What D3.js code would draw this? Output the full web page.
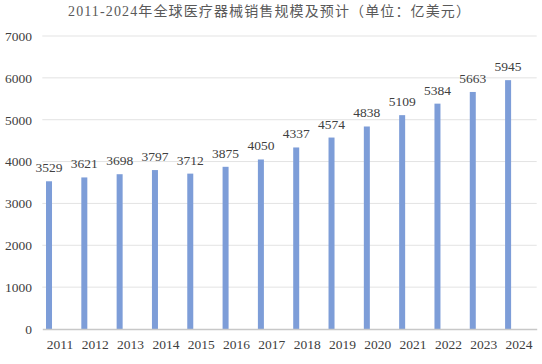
<!DOCTYPE html>
<html><head><meta charset="utf-8">
<script src="https://cdn.jsdelivr.net/npm/d3@7/dist/d3.min.js"></script>
<style>body{margin:0;background:#fff}svg{display:block}</style>
</head><body>
<script>
const title = "2011-2024年全球医疗器械销售规模及预计（单位：亿美元）";
const years = ["2011","2012","2013","2014","2015","2016","2017","2018","2019","2020","2021","2022","2023","2024"];
const sales = [3529,3621,3698,3797,3712,3875,4050,4337,4574,4838,5109,5384,5663,5945];
const yTicks = [0,1000,2000,3000,4000,5000,6000,7000];

const W = 542, H = 364;
const svg = d3.select("body").append("svg").attr("width", W).attr("height", H);
const font = "'Liberation Serif','Noto Sans CJK SC',serif";
const x = d3.scaleBand().domain(years).range([42.3, 536.7]);
const y = d3.scaleLinear().domain([0, 7000]).range([329, 36]);

svg.append("text").attr("x", 68).attr("y", 16)
  .attr("textLength", 402).attr("lengthAdjust", "spacing")
  .style("font-family", font).style("font-size", "14px").attr("fill", "#595959")
  .text(title);

// gridlines
svg.append("g").selectAll("line").data(yTicks.filter(d => d > 0)).join("line")
  .attr("x1", 42.3).attr("x2", 536.7)
  .attr("y1", d => y(d)).attr("y2", d => y(d))
  .attr("stroke", "#e3e3e3").attr("stroke-width", 1);

// y axis labels
const yAxis = d3.axisLeft(y).tickValues(yTicks).tickSize(0).tickPadding(0).tickFormat(d3.format("d"));
const gy = svg.append("g").attr("transform", "translate(32,0)").call(yAxis);
gy.select(".domain").remove();
gy.selectAll("text").style("font-family", font).style("font-size", "13.5px").attr("fill", "#404040");

// bars
const bw = x.bandwidth();
svg.append("g").selectAll("rect").data(sales).join("rect")
  .attr("x", (d, i) => x(years[i]) + bw * 0.105)
  .attr("width", bw * 0.17)
  .attr("y", d => y(d)).attr("height", d => y(0) - y(d))
  .attr("fill", "#7d9dd8");

// value labels
svg.append("g").selectAll("text").data(sales).join("text")
  .attr("x", (d, i) => x(years[i]) + bw * 0.19)
  .attr("y", d => y(d) - 9)
  .attr("text-anchor", "middle")
  .style("font-family", font).style("font-size", "13.5px").attr("fill", "#404040")
  .text(d => d);

// x axis
const xAxis = d3.axisBottom(x).tickSize(0).tickPadding(10);
const gx = svg.append("g").attr("transform", `translate(0,${y(0)})`).call(xAxis);
gx.select(".domain").attr("stroke", "#c8c8c8").attr("stroke-width", 1.5);
gx.selectAll("text").style("font-family", font).style("font-size", "13.5px").attr("fill", "#404040");
</script>
</body></html>
